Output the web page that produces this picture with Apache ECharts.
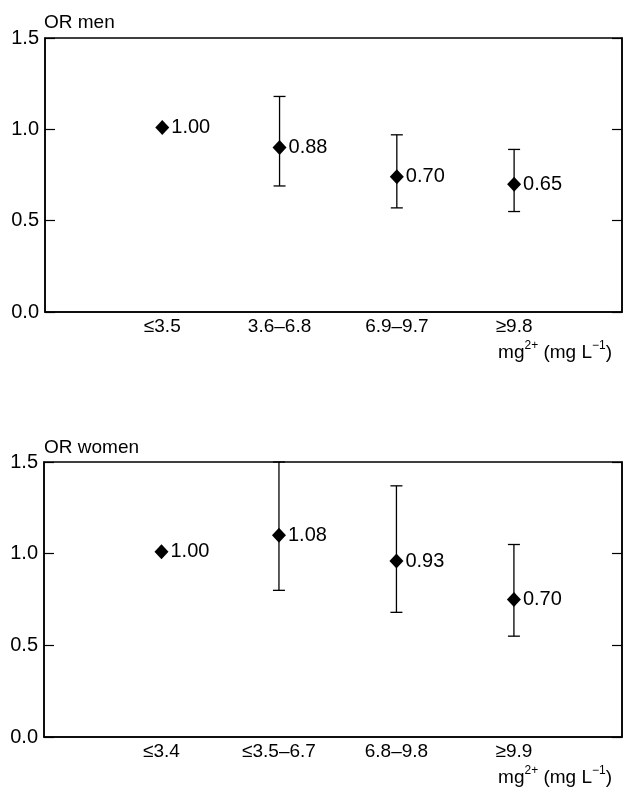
<!DOCTYPE html>
<html>
<head>
<meta charset="utf-8">
<script src="https://cdn.jsdelivr.net/npm/echarts@6/dist/echarts.min.js"></script>
<style>
  html, body { margin: 0; padding: 0; background: #fff; }
  #chart { width: 623px; height: 791px; }
</style>
</head>
<body>
<div id="chart"></div>
<script>
// categories (mg2+ groups)
const catsMen = ['≤3.5', '3.6–6.8', '6.9–9.7', '≥9.8']
const catsWomen = ['≤3.4', '≤3.5–6.7', '6.8–9.8', '≥9.9']
// odds ratios as plotted, with the printed labels
const orMen = [1.01, 0.90, 0.74, 0.70]
const lowMen = [null, 0.69, 0.57, 0.55]
const highMen = [null, 1.18, 0.97, 0.89]
const labelsMen = ['1.00', '0.88', '0.70', '0.65']
const orWomen = [1.01, 1.10, 0.96, 0.75]
const lowWomen = [null, 0.80, 0.68, 0.55]
const highWomen = [null, 1.50, 1.37, 1.05]
const labelsWomen = ['1.00', '1.08', '0.93', '0.70']
const yTicks = [0, 0.5, 1.0, 1.5]

const FONT = '"Liberation Sans", Arial, Helvetica, sans-serif'
const FS = 20
const chart = echarts.init(document.getElementById('chart'))

function xAxisFor (idx, cats) {
  return {
    type: 'value',
    gridIndex: idx,
    min: 0,
    max: 4.92,
    interval: 1,
    axisLine: { show: true, onZero: false, lineStyle: { color: '#000', width: 1.5 } },
    axisTick: { show: false },
    splitLine: { show: false },
    axisLabel: {
      margin: 5,
      color: '#000',
      fontFamily: FONT,
      fontSize: FS - 1,
      showMaxLabel: false,
      formatter: v => (Number.isInteger(v) && v >= 1 ? cats[v - 1] : '')
    }
  }
}

function yAxesFor (idx) {
  const base = {
    type: 'value',
    gridIndex: idx,
    min: yTicks[0],
    max: yTicks[yTicks.length - 1],
    interval: 0.5,
    splitLine: { show: false },
    axisLine: { show: true, lineStyle: { color: '#000', width: 1.5 } },
    axisTick: { show: true, inside: true, length: 10, lineStyle: { color: '#000', width: 1.2 } }
  }
  return [
    Object.assign({}, base, {
      position: 'left',
      axisLabel: {
        margin: 6,
        color: '#000',
        fontFamily: FONT,
        fontSize: FS,
        formatter: v => v.toFixed(1)
      }
    }),
    Object.assign({}, base, {
      position: 'right',
      axisLabel: { show: false }
    })
  ]
}

function errData (low, high) {
  const out = []
  low.forEach((lo, i) => {
    if (lo !== null) out.push([i + 1, lo, high[i]])
  })
  return out
}

function renderErr (params, api) {
  const x = api.value(0)
  const lo = api.coord([x, api.value(1)])
  const hi = api.coord([x, api.value(2)])
  const w = 6
  const style = { stroke: '#000', lineWidth: 1.3 }
  return {
    type: 'group',
    children: [
      { type: 'line', shape: { x1: lo[0], y1: lo[1], x2: hi[0], y2: hi[1] }, style },
      { type: 'line', shape: { x1: hi[0] - w, y1: hi[1], x2: hi[0] + w, y2: hi[1] }, style },
      { type: 'line', shape: { x1: lo[0] - w, y1: lo[1], x2: lo[0] + w, y2: lo[1] }, style }
    ]
  }
}

function pointSeries (idx, ors, labels) {
  return {
    type: 'scatter',
    xAxisIndex: idx,
    yAxisIndex: idx * 2,
    symbol: 'diamond',
    symbolSize: [14, 15],
    itemStyle: { color: '#000', opacity: 1 },
    z: 5,
    data: ors.map((v, i) => [i + 1, v]),
    label: {
      show: true,
      position: 'right',
      distance: 2,
      color: '#000',
      fontFamily: FONT,
      fontWeight: 'normal',
      fontSize: FS,
      formatter: p => labels[p.dataIndex]
    }
  }
}

const unitRich = {
  a: { fontFamily: FONT, fontSize: 19, fontWeight: 'normal', color: '#000', lineHeight: 22, verticalAlign: 'bottom' },
  s: { fontFamily: FONT, fontSize: 12, fontWeight: 'normal', color: '#000', lineHeight: 22, verticalAlign: 'top' }
}
const unitText = '{a|mg}{s|2+}{a| (mg L}{s|−1}{a|)}'
const titleStyle = { fontFamily: FONT, fontSize: FS - 1, fontWeight: 'normal', color: '#000' }

const option = {
  backgroundColor: '#fff',
  animation: false,
  title: [
    { text: 'OR men', left: 44, top: 13, padding: 0, textStyle: titleStyle },
    { text: 'OR women', left: 44, top: 438, padding: 0, textStyle: titleStyle },
    { text: unitText, right: 11, top: 340, padding: 0, textStyle: { fontWeight: 'normal', rich: unitRich } },
    { text: unitText, right: 11, top: 765, padding: 0, textStyle: { fontWeight: 'normal', rich: unitRich } }
  ],
  grid: [
    { left: 45, right: 1, top: 38, height: 274, show: true, borderColor: '#000', borderWidth: 1.5 },
    { left: 44, right: 1, top: 462, height: 275, show: true, borderColor: '#000', borderWidth: 1.5 }
  ],
  xAxis: [xAxisFor(0, catsMen), xAxisFor(1, catsWomen)],
  yAxis: [].concat(yAxesFor(0), yAxesFor(1)),
  series: [
    {
      type: 'custom',
      xAxisIndex: 0,
      yAxisIndex: 0,
      renderItem: renderErr,
      data: errData(lowMen, highMen),
      z: 3
    },
    pointSeries(0, orMen, labelsMen),
    {
      type: 'custom',
      xAxisIndex: 1,
      yAxisIndex: 2,
      renderItem: renderErr,
      data: errData(lowWomen, highWomen),
      z: 3
    },
    pointSeries(1, orWomen, labelsWomen)
  ]
}

chart.setOption(option)
</script>
</body>
</html>
